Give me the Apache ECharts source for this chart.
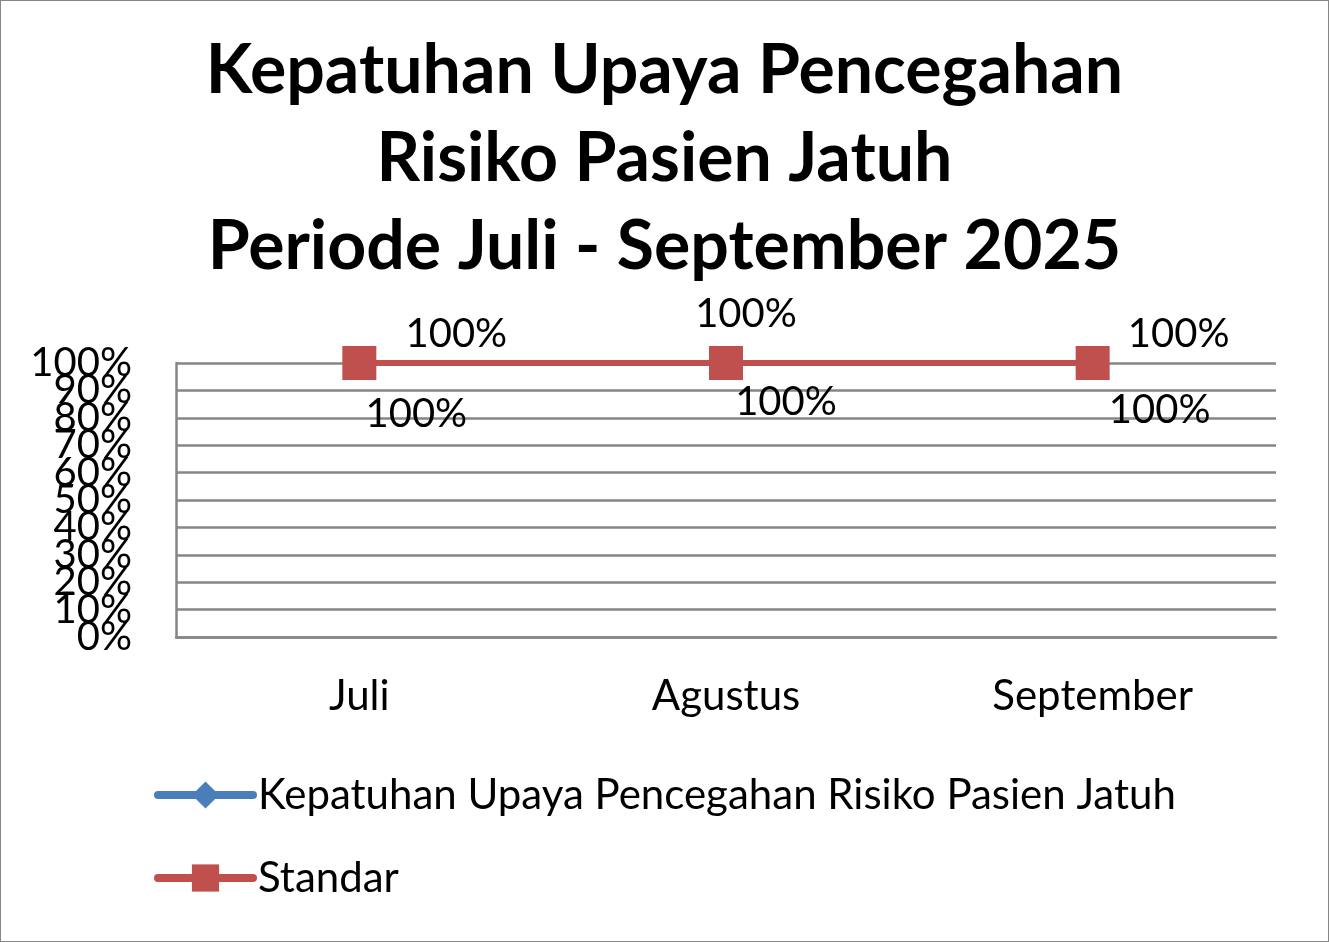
<!DOCTYPE html>
<html>
<head>
<meta charset="utf-8">
<script src="https://cdn.jsdelivr.net/npm/echarts@6/dist/echarts.min.js"></script>
<style>
  html, body { margin: 0; padding: 0; background: #fff; }
  #chart { width: 1327px; height: 940px; border: 1px solid #868686; }
</style>
</head>
<body>
<div id="chart"></div>
<script>
var months = ['Juli', 'Agustus', 'September'];
var kepatuhan = [100, 100, 100];
var standar = [100, 100, 100];
var yTicksEven = [0, 20, 40, 60, 80, 100];
var yTicksOdd = [10, 30, 50, 70, 90];

// label offsets per point (dx, dy)
var kepOffsets = [[57, 51], [60, 39], [67, 47]];
var stdOffsets = [[97, -29], [20, -49], [86, -29]];

var font = 'Lato, "Open Sans", sans-serif';

function withLabels(values, offsets) {
  var out = [];
  for (var i = 0; i < values.length; i++) {
    out.push({
      value: values[i],
      label: { offset: offsets[i] }
    });
  }
  return out;
}

// the tick labels overlap in the original, so they are split over two axes
function yAxisFor(ticks, main) {
  return {
    type: 'value',
    position: 'left',
    min: 0,
    max: 100,
    interval: 10,
    axisLine: { show: main, lineStyle: { color: '#868686', width: 2.5 } },
    axisTick: { show: false },
    splitLine: { show: main, lineStyle: { color: '#868686', width: 2.5 } },
    axisLabel: {
      color: '#000',
      fontFamily: font,
      fontSize: 40,
      margin: 44,
      hideOverlap: false,
      showMinLabel: true,
      showMaxLabel: true,
      formatter: function (v) { return ticks.indexOf(v) >= 0 ? v + '%' : ''; }
    }
  };
}

var myChart = echarts.init(document.getElementById('chart'));
var option = {
  animation: false,
  title: {
    text: 'Kepatuhan Upaya Pencegahan\nRisiko Pasien Jatuh\nPeriode Juli - September 2025',
    left: 'center',
    top: 21,
    textStyle: {
      fontFamily: font,
      fontWeight: 'bold',
      fontSize: 68,
      lineHeight: 88,
      color: '#000'
    }
  },
  grid: {
    left: 175,
    right: 52,
    top: 362,
    bottom: 304,
    containLabel: false
  },
  xAxis: {
    type: 'category',
    data: months,
    boundaryGap: true,
    axisLine: { lineStyle: { color: '#868686', width: 2.5 } },
    axisTick: { show: false },
    axisLabel: { color: '#000', fontFamily: font, fontSize: 42, margin: 38 }
  },
  yAxis: [yAxisFor(yTicksEven, true), yAxisFor(yTicksOdd, false)],
  legend: {
    orient: 'vertical',
    left: 148,
    top: 768,
    itemWidth: 95,
    itemHeight: 34,
    itemGap: 41,
    lineStyle: { width: 8, cap: 'round' },
    textStyle: { color: '#000', fontFamily: font, fontSize: 42, lineHeight: 42, padding: [0, 0, 0, 0] },
    data: ['Kepatuhan Upaya Pencegahan Risiko Pasien Jatuh', 'Standar']
  },
  series: [
    {
      name: 'Kepatuhan Upaya Pencegahan Risiko Pasien Jatuh',
      type: 'line',
      yAxisIndex: 0,
      data: withLabels(kepatuhan, kepOffsets),
      symbol: 'diamond',
      symbolSize: 30,
      itemStyle: { color: '#4a7ebb' },
      lineStyle: { color: '#4a7ebb', width: 6 },
      label: {
        show: true,
        position: 'inside',
        color: '#000',
        fontFamily: font,
        fontSize: 40,
        formatter: '{c}%'
      },
      z: 2
    },
    {
      name: 'Standar',
      type: 'line',
      yAxisIndex: 0,
      data: withLabels(standar, stdOffsets),
      symbol: 'rect',
      symbolSize: 34,
      itemStyle: { color: '#c0504d' },
      lineStyle: { color: '#c0504d', width: 6 },
      label: {
        show: true,
        position: 'inside',
        color: '#000',
        fontFamily: font,
        fontSize: 40,
        formatter: '{c}%'
      },
      z: 3
    }
  ]
};
myChart.setOption(option, true);
</script>
</body>
</html>
